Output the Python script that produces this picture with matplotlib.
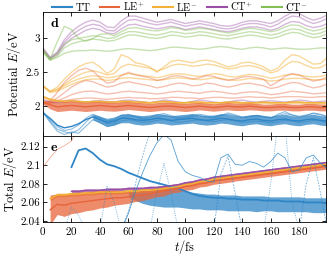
import numpy as np
import matplotlib
matplotlib.use("Agg")
import matplotlib.pyplot as plt

plt.rcParams['font.family'] = ['cmr10']
plt.rcParams['mathtext.fontset'] = 'cm'
plt.rcParams['axes.formatter.use_mathtext'] = True
plt.rcParams['font.size'] = 8

nan = np.nan
t_fs = np.arange(0, 201, 5)

c_tt = '#2f86c6'
c_lep = '#e8643a'
c_lem = '#f3b23a'
c_ctp = '#9a4ea6'
c_ctm = '#83bf55'

# ---- panel d: potential energies (eV) ----
ctp_lines = [
    [2.86, 2.72, 2.80, 2.98, 3.10, 3.18, 3.24, 3.27, 3.24, 3.17,
     3.16, 3.26, 3.33, 3.33, 3.30, 3.27, 3.24, 3.26, 3.28, 3.25,
     3.22, 3.24, 3.26, 3.24, 3.22, 3.19, 3.18, 3.20, 3.24, 3.26,
     3.26, 3.24, 3.22, 3.26, 3.33, 3.38, 3.37, 3.31, 3.27, 3.30, 3.35],
    [2.84, 2.71, 2.78, 2.94, 3.05, 3.12, 3.18, 3.21, 3.19, 3.12,
     3.11, 3.20, 3.27, 3.28, 3.25, 3.22, 3.20, 3.22, 3.24, 3.21,
     3.18, 3.20, 3.22, 3.20, 3.18, 3.15, 3.14, 3.16, 3.20, 3.22,
     3.22, 3.20, 3.17, 3.21, 3.28, 3.33, 3.32, 3.26, 3.22, 3.25, 3.30],
    [2.82, 2.70, 2.76, 2.90, 3.00, 3.06, 3.12, 3.15, 3.13, 3.08,
     3.07, 3.14, 3.20, 3.21, 3.18, 3.16, 3.14, 3.16, 3.18, 3.16,
     3.13, 3.15, 3.17, 3.15, 3.13, 3.11, 3.10, 3.12, 3.15, 3.17,
     3.17, 3.15, 3.12, 3.15, 3.21, 3.25, 3.24, 3.19, 3.16, 3.18, 3.22],
    [2.10, 2.06, 2.05, 2.07, 2.08, 2.07, 2.06, 2.07, 2.08, 2.07,
     2.06, 2.08, 2.09, 2.08, 2.06, 2.05, 2.07, 2.09, 2.08, 2.06,
     2.05, 2.07, 2.09, 2.08, 2.06, 2.05, 2.06, 2.08, 2.09, 2.07,
     2.06, 2.07, 2.08, 2.07, 2.06, 2.07, 2.09, 2.08, 2.06, 2.07, 2.08],
]
ctm_lines = [
    [2.84, 2.70, 2.95, 3.18, 3.13, 3.00, 2.96, 3.00, 3.06, 3.07,
     3.04, 3.10, 3.15, 3.16, 3.14, 3.12, 3.11, 3.13, 3.16, 3.15,
     3.12, 3.13, 3.15, 3.14, 3.12, 3.10, 3.08, 3.10, 3.13, 3.15,
     3.14, 3.12, 3.10, 3.12, 3.17, 3.20, 3.19, 3.14, 3.11, 3.13, 3.17],
    [2.82, 2.69, 2.78, 2.92, 2.98, 3.00, 3.02, 3.04, 3.03, 3.00,
     3.01, 3.06, 3.10, 3.10, 3.08, 3.06, 3.05, 3.07, 3.10, 3.09,
     3.07, 3.08, 3.10, 3.09, 3.07, 3.05, 3.04, 3.06, 3.08, 3.10,
     3.09, 3.07, 3.05, 3.07, 3.11, 3.14, 3.13, 3.09, 3.06, 3.08, 3.12],
    [2.80, 2.68, 2.74, 2.86, 2.92, 2.95, 2.97, 2.99, 2.98, 2.96,
     2.97, 3.01, 3.05, 3.05, 3.03, 3.01, 3.00, 3.02, 3.05, 3.04,
     3.02, 3.03, 3.05, 3.04, 3.02, 3.00, 2.99, 3.01, 3.03, 3.05,
     3.04, 3.02, 3.00, 3.02, 3.06, 3.09, 3.08, 3.04, 3.01, 3.03, 3.07],
    [2.80, 2.68, 2.72, 2.78, 2.81, 2.82, 2.82, 2.83, 2.82, 2.81,
     2.82, 2.84, 2.85, 2.84, 2.83, 2.82, 2.83, 2.85, 2.87, 2.87,
     2.86, 2.85, 2.84, 2.85, 2.87, 2.88, 2.87, 2.85, 2.84, 2.86,
     2.87, 2.86, 2.84, 2.85, 2.86, 2.85, 2.84, 2.84, 2.85, 2.86, 2.86],
]
lem_lines = [
    [2.30, 2.22, 2.28, 2.40, 2.50, 2.58, 2.63, 2.65, 2.58, 2.48,
     2.55, 2.76, 2.72, 2.64, 2.62, 2.58, 2.50, 2.58, 2.66, 2.68,
     2.66, 2.64, 2.67, 2.68, 2.66, 2.62, 2.58, 2.60, 2.64, 2.65,
     2.62, 2.58, 2.52, 2.56, 2.68, 2.76, 2.74, 2.68, 2.62, 2.63, 2.72],
    [2.30, 2.22, 2.25, 2.32, 2.40, 2.46, 2.50, 2.52, 2.50, 2.46,
     2.48, 2.58, 2.62, 2.60, 2.58, 2.56, 2.52, 2.55, 2.60, 2.62,
     2.61, 2.59, 2.60, 2.62, 2.61, 2.58, 2.55, 2.56, 2.59, 2.60,
     2.58, 2.54, 2.49, 2.52, 2.60, 2.66, 2.65, 2.60, 2.56, 2.57, 2.63],
    [2.30, 2.21, 2.24, 2.30, 2.36, 2.40, 2.43, 2.45, 2.44, 2.42,
     2.43, 2.46, 2.48, 2.47, 2.45, 2.44, 2.42, 2.44, 2.47, 2.48,
     2.47, 2.45, 2.44, 2.46, 2.48, 2.47, 2.44, 2.43, 2.45, 2.47,
     2.46, 2.44, 2.41, 2.43, 2.46, 2.47, 2.46, 2.44, 2.43, 2.44, 2.46],
    [2.29, 2.20, 2.22, 2.27, 2.32, 2.36, 2.39, 2.40, 2.40, 2.38,
     2.39, 2.41, 2.42, 2.41, 2.40, 2.39, 2.38, 2.39, 2.41, 2.42,
     2.41, 2.40, 2.39, 2.40, 2.42, 2.41, 2.39, 2.38, 2.39, 2.41,
     2.40, 2.39, 2.37, 2.38, 2.40, 2.41, 2.41, 2.40, 2.39, 2.39, 2.40],
]
lep_lines = [
    [2.05, 2.08, 2.20, 2.35, 2.45, 2.53, 2.56, 2.52, 2.42, 2.34,
     2.36, 2.45, 2.50, 2.46, 2.44, 2.42, 2.38, 2.40, 2.44, 2.45,
     2.43, 2.40, 2.42, 2.45, 2.44, 2.40, 2.38, 2.40, 2.43, 2.44,
     2.42, 2.40, 2.30, 2.36, 2.44, 2.48, 2.46, 2.41, 2.37, 2.39, 2.43],
    [2.04, 2.06, 2.12, 2.20, 2.28, 2.34, 2.38, 2.36, 2.32, 2.28,
     2.30, 2.34, 2.36, 2.34, 2.32, 2.30, 2.27, 2.29, 2.32, 2.34,
     2.33, 2.30, 2.31, 2.34, 2.33, 2.30, 2.28, 2.30, 2.33, 2.34,
     2.32, 2.30, 2.26, 2.28, 2.32, 2.35, 2.34, 2.30, 2.27, 2.29, 2.33],
    [2.04, 2.05, 2.08, 2.12, 2.17, 2.20, 2.22, 2.22, 2.20, 2.18,
     2.19, 2.21, 2.22, 2.21, 2.20, 2.19, 2.18, 2.19, 2.21, 2.22,
     2.21, 2.20, 2.19, 2.21, 2.22, 2.21, 2.19, 2.18, 2.20, 2.21,
     2.21, 2.19, 2.17, 2.18, 2.20, 2.22, 2.21, 2.20, 2.18, 2.19, 2.20],
    [2.03, 2.04, 2.06, 2.08, 2.10, 2.11, 2.12, 2.12, 2.11, 2.10,
     2.11, 2.12, 2.13, 2.12, 2.12, 2.11, 2.11, 2.12, 2.13, 2.13,
     2.12, 2.12, 2.11, 2.12, 2.13, 2.13, 2.12, 2.12, 2.13, 2.14,
     2.13, 2.13, 2.12, 2.13, 2.14, 2.14, 2.14, 2.13, 2.13, 2.14, 2.14],
]
tt_lines = [
    [1.92, 1.78, 1.66, 1.62, 1.60, 1.65, 1.76, 1.86, 1.82, 1.74,
     1.75, 1.82, 1.86, 1.84, 1.81, 1.80, 1.83, 1.86, 1.84, 1.81,
     1.82, 1.85, 1.86, 1.84, 1.82, 1.86, 1.90, 1.87, 1.84, 1.85,
     1.86, 1.84, 1.82, 1.88, 1.92, 1.87, 1.84, 1.86, 1.90, 1.88, 1.85],
    [1.91, 1.80, 1.70, 1.64, 1.66, 1.72, 1.82, 1.88, 1.84, 1.78,
     1.80, 1.86, 1.88, 1.85, 1.82, 1.83, 1.87, 1.89, 1.86, 1.83,
     1.84, 1.87, 1.88, 1.86, 1.84, 1.86, 1.88, 1.86, 1.83, 1.84,
     1.86, 1.85, 1.83, 1.86, 1.89, 1.87, 1.85, 1.87, 1.89, 1.87, 1.84],
    [1.90, 1.76, 1.63, 1.58, 1.62, 1.60, 1.70, 1.80, 1.76, 1.70,
     1.72, 1.78, 1.80, 1.78, 1.76, 1.77, 1.79, 1.80, 1.78, 1.76,
     1.77, 1.79, 1.80, 1.78, 1.77, 1.79, 1.80, 1.78, 1.76, 1.77,
     1.78, 1.77, 1.75, 1.77, 1.79, 1.78, 1.76, 1.77, 1.79, 1.78, 1.76],
]

lem_mean = [2.14, 2.10, 2.08, 2.07, 2.08, 2.07, 2.06, 2.07, 2.07, 2.06,
            2.06, 2.07, 2.07, 2.06, 2.06, 2.05, 2.06, 2.07, 2.06, 2.05,
            2.05, 2.06, 2.06, 2.05, 2.05, 2.05, 2.06, 2.06, 2.05, 2.05,
            2.05, 2.06, 2.05, 2.05, 2.05, 2.06, 2.06, 2.05, 2.05, 2.05, 2.05]
lem_std = 0.02
lep_mean = [2.06, 2.02, 1.99, 2.00, 2.01, 2.00, 1.99, 2.00, 2.01, 2.00,
            1.99, 2.00, 2.01, 2.00, 1.99, 1.98, 1.99, 2.00, 2.00, 1.99,
            1.98, 1.99, 2.00, 1.99, 1.98, 1.99, 2.00, 1.99, 1.99, 2.00,
            1.99, 1.98, 1.98, 1.99, 1.99, 1.98, 1.98, 1.99, 1.99, 1.98, 1.98]
lep_std = [0.03, 0.06, 0.07, 0.07, 0.07, 0.07, 0.07, 0.07, 0.07, 0.07,
           0.065, 0.065, 0.06, 0.06, 0.06, 0.06, 0.06, 0.06, 0.06, 0.06,
           0.06, 0.06, 0.055, 0.055, 0.055, 0.055, 0.055, 0.055, 0.055, 0.055,
           0.05, 0.05, 0.05, 0.05, 0.05, 0.05, 0.05, 0.05, 0.05, 0.05, 0.05]
tt_mean = [1.90, 1.82, 1.72, 1.68, 1.70, 1.74, 1.80, 1.84, 1.80, 1.76,
           1.78, 1.82, 1.82, 1.80, 1.79, 1.80, 1.82, 1.81, 1.79, 1.80,
           1.81, 1.82, 1.80, 1.79, 1.80, 1.82, 1.81, 1.79, 1.78, 1.80,
           1.81, 1.79, 1.78, 1.80, 1.81, 1.79, 1.78, 1.80, 1.81, 1.79, 1.78]
tt_std = [nan, nan, nan, nan, nan, nan, nan, 0.04, 0.05, 0.06,
          0.06, 0.065, 0.065, 0.07, 0.07, 0.07, 0.07, 0.07, 0.07, 0.07,
          0.07, 0.07, 0.07, 0.07, 0.07, 0.07, 0.07, 0.07, 0.07, 0.07,
          0.07, 0.07, 0.07, 0.07, 0.07, 0.07, 0.07, 0.07, 0.07, 0.07, 0.07]

# ---- panel e: total energies (eV) ----
tt_tot_mean = [nan, nan, nan, nan, 2.098, 2.116, 2.118, 2.113, 2.106, 2.101,
               2.099, 2.096, 2.092, 2.089, 2.086, 2.083, 2.081, 2.079, 2.077, 2.075,
               2.072, 2.069, 2.067, 2.066, 2.065, 2.065, 2.064, 2.064, 2.063, 2.063,
               2.063, 2.062, 2.062, 2.062, 2.061, 2.061, 2.061, 2.060, 2.060, 2.060, 2.059]
tt_tot_lo = [nan, nan, nan, nan, nan, nan, nan, nan, nan, nan,
             nan, nan, 2.066, 2.062, 2.059, 2.057, 2.056, 2.055, 2.055, 2.055,
             2.054, 2.053, 2.053, 2.052, 2.052, 2.052, 2.051, 2.051, 2.051, 2.051,
             2.050, 2.051, 2.051, 2.050, 2.050, 2.050, 2.050, 2.050, 2.049, 2.049, 2.049]
tt_tot_hi = [nan, nan, nan, nan, nan, nan, nan, nan, nan, nan,
             nan, nan, 2.072, 2.074, 2.075, 2.075, 2.076, 2.076, 2.076, 2.075,
             2.073, 2.071, 2.070, 2.069, 2.069, 2.068, 2.068, 2.068, 2.067, 2.067,
             2.067, 2.067, 2.066, 2.066, 2.066, 2.066, 2.066, 2.065, 2.065, 2.065, 2.065]
lep_tot_mean = [nan, 2.052, 2.058, 2.057, 2.059, 2.060, 2.061, 2.062, 2.063, 2.064,
                2.065, 2.065, 2.066, 2.067, 2.068, 2.069, 2.071, 2.072, 2.074, 2.075,
                2.077, 2.078, 2.080, 2.081, 2.083, 2.084, 2.085, 2.086, 2.087, 2.088,
                2.089, 2.090, 2.091, 2.092, 2.093, 2.094, 2.095, 2.096, 2.097, 2.098, 2.099]
lep_tot_std = [nan, 0.016, 0.011, 0.012, 0.011, 0.011, 0.010, 0.010, 0.009, 0.009,
               0.008, 0.007, 0.007, 0.006, 0.006, 0.005, 0.005, 0.005, 0.004, 0.004,
               0.004, 0.004, 0.0035, 0.0035, 0.0035, 0.0035, 0.0035, 0.003, 0.003, 0.003,
               0.003, 0.003, 0.003, 0.003, 0.003, 0.003, 0.003, 0.003, 0.003, 0.003, 0.003]
lem_tot_mean = [nan, 2.064, 2.068, 2.068, 2.069, 2.069, 2.070, 2.070, 2.071, 2.071,
                2.071, 2.071, 2.072, 2.072, 2.073, 2.073, 2.074, 2.075, 2.076, 2.077,
                2.079, 2.080, 2.082, 2.083, 2.085, 2.086, 2.087, 2.088, 2.089, 2.090,
                2.091, 2.092, 2.093, 2.094, 2.095, 2.096, 2.097, 2.098, 2.099, 2.100, 2.101]
lem_tot_std = 0.002
ctp_tot_mean = [nan, nan, nan, nan, 2.072, 2.072, 2.073, 2.073, 2.073, 2.074,
                2.074, 2.074, 2.075, 2.075, 2.075, 2.076, 2.076, 2.077, 2.078, 2.079,
                2.081, 2.082, 2.084, 2.085, 2.087, 2.088, 2.089, 2.090, 2.091, 2.092,
                2.093, 2.094, 2.095, 2.096, 2.097, 2.098, 2.099, 2.100, 2.101, 2.102, 2.103]
ctp_tot_std = 0.0015

tt_traj = [nan, nan, nan, nan, nan, nan, nan, nan, nan, nan,
           nan, 2.030, 2.048, 2.072, 2.092, 2.110, 2.124, 2.133, 2.127, 2.104,
           2.093, 2.089, 2.087, 2.083, 2.082, 2.108, 2.112, 2.101, 2.100, 2.104,
           2.102, 2.098, 2.104, 2.113, 2.108, 2.093, 2.095, 2.108, 2.111, 2.102, 2.096]
tt_dot_a = [nan, nan, nan, 2.030, 2.055, 2.046, 2.030, nan, 2.030, 2.078,
            2.060, 2.030, nan, nan, nan, 2.030, 2.070, 2.102, 2.070, 2.030,
            nan, nan, nan, nan, nan, nan, nan, nan, nan, nan,
            nan, 2.030, 2.080, 2.145, 2.145, 2.060, 2.030, nan, nan, nan, nan]
tt_dot_b = [nan, nan, nan, nan, nan, nan, nan, nan, nan, nan,
            nan, 2.030, 2.050, 2.080, 2.110, 2.135, 2.145, nan, nan, nan,
            nan, nan, nan, nan, 2.030, 2.090, 2.110, 2.070, 2.030, nan,
            nan, nan, nan, nan, nan, nan, 2.030, 2.080, 2.108, 2.070, 2.030]
lep_traj = [2.098, 2.108, 2.117, 2.121, 2.126, 2.140, nan, nan, nan, nan,
            nan, nan, nan, nan, nan, nan, nan, nan, nan, nan,
            nan, nan, nan, nan, nan, nan, nan, nan, nan, nan,
            nan, nan, nan, nan, nan, nan, nan, nan, nan, nan, nan]


def band(ax, mean, spread, color, alpha=0.75, lw=1.0):
    mean = np.array(mean, dtype=float)
    spread = np.array(spread, dtype=float)
    ax.fill_between(t_fs, mean - spread, mean + spread, color=color,
                    alpha=alpha, lw=0)
    ax.plot(t_fs, mean, color=color, lw=lw)


fig = plt.figure(figsize=(3.27, 2.56), dpi=100)
ax1 = fig.add_axes([0.1315, 0.469, 0.866, 0.484])
ax2 = fig.add_axes([0.1315, 0.133, 0.866, 0.336])

# panel d
for y in ctp_lines:
    ax1.plot(t_fs, y, color=c_ctp, lw=1.0, alpha=0.4)
for y in ctm_lines:
    ax1.plot(t_fs, y, color=c_ctm, lw=1.0, alpha=0.45)
for y in lem_lines:
    ax1.plot(t_fs, y, color=c_lem, lw=1.0, alpha=0.5)
for y in lep_lines:
    ax1.plot(t_fs, y, color=c_lep, lw=1.0, alpha=0.4)
band(ax1, lem_mean, lem_std, c_lem, alpha=0.55)
band(ax1, lep_mean, lep_std, c_lep, alpha=0.7)
band(ax1, tt_mean, tt_std, c_tt, alpha=0.75)
for y in tt_lines:
    ax1.plot(t_fs, y, color=c_tt, lw=0.8, alpha=0.55)

ax1.set_xlim(0, 199)
ax1.set_ylim(1.56, 3.39)
ax1.set_yticks([2, 2.5, 3])
ax1.set_yticklabels(['2', '2.5', '3'])
ax1.set_xticks(np.arange(0, 200, 20))
ax1.set_xticklabels([])
ax1.set_ylabel('Potential $E$/eV', fontsize=9, labelpad=2)
ax1.text(0.025, 0.96, r'$\mathbf{d}$', transform=ax1.transAxes,
         fontsize=10, va='top', ha='left')

# panel e
ax2.fill_between(t_fs, tt_tot_lo, tt_tot_hi, color=c_tt, alpha=0.75, lw=0)
ax2.plot(t_fs, tt_tot_mean, color=c_tt, lw=1.3)
band(ax2, ctp_tot_mean, ctp_tot_std, c_ctp, alpha=0.8)
band(ax2, lem_tot_mean, lem_tot_std, c_lem, alpha=0.8)
band(ax2, lep_tot_mean, lep_tot_std, c_lep, alpha=0.75)
ax2.plot(t_fs, tt_traj, color=c_tt, lw=0.6, alpha=0.8)
ax2.plot(t_fs, tt_dot_a, color=c_tt, lw=0.6, ls=':', alpha=0.8)
ax2.plot(t_fs, tt_dot_b, color=c_tt, lw=0.6, ls=(0, (2, 1.5)), alpha=0.7)
ax2.plot(t_fs, lep_traj, color=c_lep, lw=0.6, alpha=0.5)

ax2.set_xlim(0, 199)
ax2.set_ylim(2.039, 2.1315)
ax2.set_yticks([2.04, 2.06, 2.08, 2.1, 2.12])
ax2.set_yticklabels(['2.04', '2.06', '2.08', '2.1', '2.12'])
ax2.set_xticks(np.arange(0, 200, 20))
ax2.set_xlabel('$t$/fs', fontsize=9, labelpad=1)
ax2.set_ylabel('Total $E$/eV', fontsize=9, labelpad=1)
ax2.text(0.025, 0.93, r'$\mathbf{e}$', transform=ax2.transAxes,
         fontsize=10, va='top', ha='left')

for ax in (ax1, ax2):
    ax.tick_params(direction='in', top=True, right=True, length=3,
                   width=0.6, labelsize=8, pad=2)
    for s in ax.spines.values():
        s.set_linewidth(0.6)

handles = [plt.Line2D([], [], color=c, lw=1.5)
           for c in (c_tt, c_lep, c_lem, c_ctp, c_ctm)]
labels = ['TT', 'LE$^{+}$', 'LE$^{-}$', 'CT$^{+}$', 'CT$^{-}$']
fig.legend(handles, labels, loc='center', bbox_to_anchor=(0.55, 0.974),
           ncol=5, frameon=False, fontsize=7.5, handlelength=1.9,
           handletextpad=0.3, columnspacing=0.9, borderpad=0)

fig.savefig('out.png', dpi=100)
